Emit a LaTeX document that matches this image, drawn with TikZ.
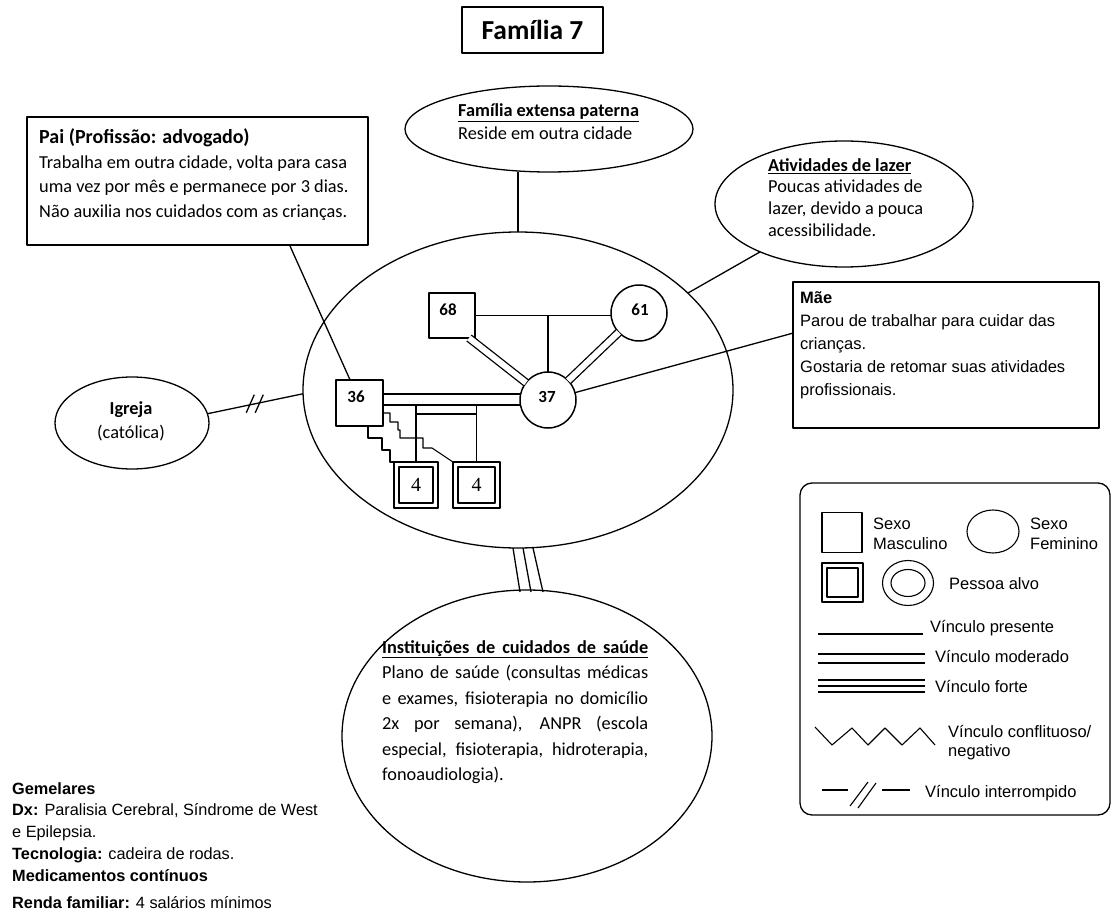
\documentclass[tikz,border=0pt]{standalone}
\usepackage{fontspec}
\setmainfont{Carlito}
\newfontfamily\arialf{Liberation Sans}
\newfontfamily\timesf{Liberation Serif}
\usetikzlibrary{shapes.geometric,calc}
\begin{document}
\begin{tikzpicture}[x=1pt,y=-1pt,line join=round,
  wl/.style={line width=1.3pt},
  tl/.style={line width=1.1pt},
  gl/.style={line width=1.9pt},
  ell/.style={draw,ellipse,line width=1.3pt,inner sep=0pt,outer sep=0pt},
  bx/.style={draw,rectangle,line width=1.3pt,inner sep=0pt,outer sep=0pt},
  sq/.style={draw,rectangle,line width=1.5pt,inner sep=0pt,outer sep=0pt},
  circ/.style={draw,circle,line width=1.5pt,inner sep=0pt,outer sep=0pt,minimum size=56pt},
  cal/.style={inner sep=0pt,anchor=base west,font=\fontsize{18.3}{22}\selectfont},
  calb/.style={inner sep=0pt,anchor=base west,font=\fontsize{18.3}{22}\selectfont\bfseries},
  ari/.style={inner sep=0pt,anchor=base west,font=\arialf\fontsize{16.5}{20}\selectfont},
  arb/.style={inner sep=0pt,anchor=base west,font=\arialf\fontsize{16.3}{20}\selectfont},
  lab/.style={inner sep=0pt,font=\fontsize{17}{17}\selectfont\bfseries},
  dbl/.style={double,double distance=6pt,line width=1.3pt},
]
\useasboundingbox (0,0) rectangle (1116,917);

% title
\node[bx,minimum width=141pt,minimum height=46pt,font=\fontsize{27.5}{30}\selectfont\bfseries] (title) at (532.5,30) {Família 7};

% Pai box
\node[bx,minimum width=341pt,minimum height=128pt] (pai) at (197.5,181) {};
\node[cal,font=\fontsize{20}{22}\selectfont\bfseries] (pai1) at (39,144) {Pai (Profissão: advogado)};
\node[cal] (pai2) at (39,169) {Trabalha em outra cidade, volta para casa};
\node[cal] (pai3) at (39,193) {uma vez por mês e permanece por 3 dias.};
\node[cal] (pai4) at (39,218) {Não auxilia nos cuidados com as crianças.};

% Familia extensa
\node[ell,minimum width=288pt,minimum height=86pt] (fam) at (549,129) {};
\node[calb] (fam1) at (458,117) {\underline{Família extensa paterna}};
\node[cal] (fam2) at (458,140) {Reside em outra cidade};

% Atividades
\node[ell,minimum width=258pt,minimum height=126pt] (ativ) at (844,204) {};
\node[calb] (ativ1) at (768,172) {\underline{Atividades de lazer}};
\node[cal] (ativ2) at (768,193) {Poucas atividades de};
\node[cal] (ativ3) at (768,215) {lazer, devido a pouca};
\node[cal] (ativ4) at (768,237) {acessibilidade.};

% Mae
\node[bx,minimum width=306pt,minimum height=146pt] (mae) at (946,355) {};
\node[ari,font=\arialf\fontsize{16.5}{20}\selectfont\bfseries] (mae1) at (800,303) {Mãe};
\node[ari] (mae2) at (800,326) {Parou de trabalhar para cuidar das};
\node[ari] (mae3) at (800,349) {crianças.};
\node[ari] (mae4) at (800,372) {Gostaria de retomar suas atividades};
\node[ari] (mae5) at (800,395) {profissionais.};

% central ellipse
\node[ell,minimum width=430pt,minimum height=316pt] (big) at (518,390) {};

% Igreja
\node[ell,minimum width=154pt,minimum height=92pt] (igr) at (132,423) {};
\node[calb,anchor=base] (igr1) at (131,414) {Igreja};
\node[cal,anchor=base] (igr2) at (131,438) {(católica)};

% Instituicoes
\node[ell,minimum width=370pt,minimum height=292pt] (inst) at (527,736) {};
\node[cal] (inst1) at (382,653) {\underline{\makebox[266pt][s]{\bfseries Instituições de cuidados de saúde}}};
\node[cal] (inst2) at (382,678.5) {\makebox[266pt][s]{Plano de saúde (consultas médicas}};
\node[cal] (inst3) at (382,704) {\makebox[266pt][s]{e exames, fisioterapia no domicílio}};
\node[cal] (inst4) at (382,729.5) {\makebox[266pt][s]{2x por semana), ANPR (escola}};
\node[cal] (inst5) at (382,755) {\makebox[266pt][s]{especial, fisioterapia, hidroterapia,}};
\node[cal] (inst6) at (382,780.5) {fonoaudiologia).};

% genogram
\node[sq,minimum width=46pt,minimum height=45pt] (s68) at (452,315.5) {};
\node[lab] (l68) at (448,310) {68};
\node[circ] (c61) at (639,313) {};
\node[lab] (l61) at (640,310) {61};
\node[circ] (c37) at (548,400) {};
\node[lab] (l37) at (547,397) {37};
\node[sq,minimum width=47pt,minimum height=46pt] (s36) at (359.5,403) {};
\node[lab] (l36) at (356,397) {36};
\node[sq,minimum width=44pt,minimum height=46pt] (ch1) at (416,485) {};
\node[sq,minimum width=34pt,minimum height=36pt,font=\timesf\fontsize{20}{20}\selectfont] (ch1in) at (416,485) {4};
\node[sq,minimum width=47pt,minimum height=46pt] (ch2) at (476.5,485) {};
\node[sq,minimum width=37pt,minimum height=36pt,font=\timesf\fontsize{20}{20}\selectfont] (ch2in) at (476.5,485) {4};

\draw[gl] (s68.east) -- (s68.east -| c61.west);
\draw[gl] (c37.north) -- (c37.north |- s68.east);
\draw[dbl] ($(s68.south east)+(-6,0)$) -- (c37);
\draw[dbl] (c61) -- (c37);
\draw[gl] (s36.east |- 0,394) -- (c37.west |- 0,394);
\draw[gl] (s36.east |- 0,405) -- (c37.west |- 0,405);
\draw[gl] (ch1.north) -- (ch1.north |- 0,405);
\draw[gl] (ch2.north) -- (ch2.north |- 0,405);
\draw[tl] (ch1.north |- 0,414) -- (ch2.north |- 0,414);
\draw[tl] (s36.east |- 0,413) -- ++(7,0) -- ++(0,9) -- ++(8,0) -- ++(0,8) -- ++(2,0) -- ++(0,8) -- ++(23,0) -- ++(0,10) -- ++(9,0) -- (ch2.north west);
\draw[tl] ($(s36.south west)+(32,0)$) -- ++(0,12) -- ++(14,0) -- ++(0,12) -- ++(8,0) -- ++(0,12) -- (ch1.north west);

% connectors
\draw[wl] (fam.south -| big.north) -- (big.north);
\draw[wl] (ativ) -- (big);
\draw[wl] ($(mae.north west)!0.35!(mae.south west)$) -- (c37);
\draw[wl] ($(pai.south west)!0.77!(pai.south east)$) -- ($(s36.north west)!0.3!(s36.north east)$);
\draw[wl] (igr.7) -- (big.181.5) coordinate[pos=0.5] (brk);
\draw[wl] ($(brk)+(-9,9)$) -- ($(brk)+(-1,-9)$);
\draw[wl] ($(brk)+(0,9)$) -- ($(brk)+(8,-9)$);
\draw[wl] ($(big.south)+(-5,0)$) -- ($(inst.north)+(-7,2)$);
\draw[wl] ($(big.south)+(5,0)$) -- ($(inst.north)+(4,2)$);
\draw[wl] ($(big.south)+(15,0)$) -- ($(inst.north)+(16,2)$);

% legend
\node[bx,rounded corners=12pt,minimum width=310pt,minimum height=332pt] (leg) at (955,649) {};
\node[sq,line width=1.1pt,minimum width=40pt,minimum height=40pt] (lgm) at (842,532.5) {};
\node[ari] (lgm1) at (873,529) {Sexo};
\node[ari] (lgm2) at (873,549) {Masculino};
\node[ell,line width=1.1pt,minimum width=52pt,minimum height=43pt] (lgf) at (993,531.5) {};
\node[ari] (lgf1) at (1030,529) {Sexo};
\node[ari] (lgf2) at (1030,549) {Feminino};
\node[sq,line width=1.1pt,minimum width=41pt,minimum height=39pt] (lgt) at (842.5,582.5) {};
\node[sq,line width=1.1pt,minimum width=31pt,minimum height=29pt] (lgtin) at (842.5,582.5) {};
\node[ell,line width=1.1pt,minimum width=51pt,minimum height=45pt] (lgc) at (908,583) {};
\node[ell,line width=1.1pt,minimum width=34pt,minimum height=27pt] (lgcin) at (908,583) {};
\node[ari] (lgp) at (949,589) {Pessoa alvo};

\coordinate (lp1) at (818,634);
\coordinate (lp2) at (923,634);
\draw[tl] (lp1) -- (lp2);
\node[ari] (lgvp) at (930,632) {Vínculo presente};
\draw[tl] (818,654) -- (925,654);
\draw[tl] (818,663) -- (925,663);
\node[ari] (lgvm) at (935,662) {Vínculo moderado};
\draw[tl] (818,680) -- (925,680);
\draw[tl] (818,686) -- (925,686);
\draw[tl] (818,692) -- (925,692);
\node[ari] (lgvf) at (935,692) {Vínculo forte};
\draw[tl] (815,727) -- (832,745) -- (852,728) -- (868,745) -- (885,728) -- (902,745) -- (920,728) -- (935,745);
\node[ari] (lgvc1) at (948,737) {Vínculo conflituoso/};
\node[ari] (lgvc2) at (948,756) {negativo};
\draw[tl] (822,790) -- (848,790);
\draw[tl] (850,806) -- (868,782);
\draw[tl] (858,808) -- (876,783);
\draw[tl] (882,790) -- (910,790);
\node[ari] (lgvi) at (925,797) {Vínculo interrompido};

% bottom-left notes
\node[arb,font=\arialf\fontsize{16.3}{20}\selectfont\bfseries] (n1) at (12,794) {Gemelares};
\node[arb] (n2) at (12,815) {\textbf{Dx:} Paralisia Cerebral, Síndrome de West};
\node[arb] (n3) at (12,837) {e Epilepsia.};
\node[arb] (n4) at (12,859) {\textbf{Tecnologia:} cadeira de rodas.};
\node[arb,font=\arialf\fontsize{16.3}{20}\selectfont\bfseries] (n5) at (12,881) {Medicamentos contínuos};
\node[arb] (n6) at (12,908) {\textbf{Renda familiar:} 4 salários mínimos};
\end{tikzpicture}
\end{document}
